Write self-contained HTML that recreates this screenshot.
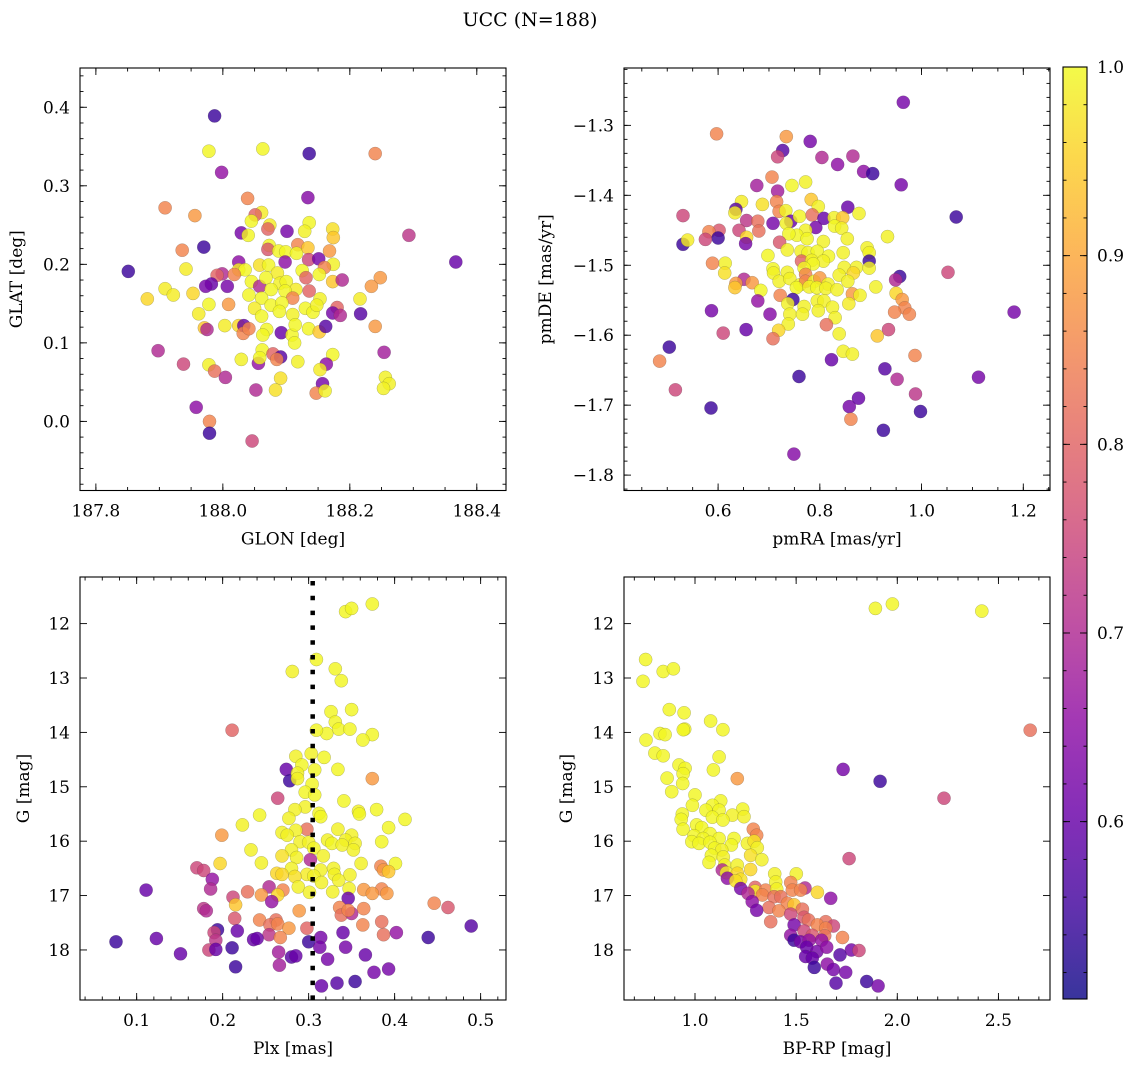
<!DOCTYPE html>
<html><head><meta charset="utf-8"><style>
html,body{margin:0;padding:0;background:#fff;}
svg{display:block;font-family:"DejaVu Serif","Liberation Serif",serif;}
</style></head><body>
<svg id="fig" width="1136" height="1067" viewBox="0 0 1136 1067" xmlns="http://www.w3.org/2000/svg">
<rect width="1136" height="1067" fill="#fff"/>
<text x="530" y="26" font-size="19" text-anchor="middle">UCC (N=188)</text>
</svg>
<script>
// ---- Panel 1: GLON vs GLAT ----
const p1x = [187.987,187.978,188.063,188.136,188.240,187.998,188.039,188.134,187.909,187.956,
188.061,188.051,188.045,188.074,188.136,188.129,188.173,188.174,188.071,188.101,
188.029,188.040,188.293,187.970,187.936,188.073,188.071,188.088,188.099,188.118,
188.116,188.134,188.135,188.151,188.168,188.174,188.160,188.367,187.851,187.942,
188.025,188.098,188.058,188.072,188.025,188.035,187.999,187.991,188.018,188.086,
188.125,188.131,188.152,188.173,188.188,188.248,188.234,187.982,187.973,188.007,
187.909,187.922,187.953,187.881,188.045,188.058,188.068,188.090,188.100,188.115,
188.098,188.076,188.041,188.061,188.110,188.136,188.153,187.978,188.009,188.076,
188.093,188.050,188.061,188.089,188.110,188.130,188.142,188.148,188.180,188.173,
188.185,188.216,188.217,187.962,187.971,187.975,188.003,188.025,188.033,188.032,
188.041,188.069,188.063,188.092,188.109,188.114,188.135,188.152,188.162,188.240,
188.113,188.062,187.898,188.254,188.173,188.029,188.056,188.058,188.079,188.091,
188.085,188.118,187.938,187.978,187.987,188.004,188.163,188.153,188.091,188.157,
188.256,188.262,188.253,188.052,188.083,188.147,188.161,187.958,187.979,187.979,188.046];
const p1y = [0.389,0.344,0.347,0.341,0.341,0.317,0.284,0.285,0.272,0.262,
0.266,0.263,0.255,0.250,0.253,0.242,0.245,0.234,0.245,0.242,
0.240,0.237,0.237,0.222,0.218,0.224,0.219,0.217,0.216,0.225,
0.214,0.221,0.206,0.207,0.217,0.200,0.196,0.203,0.191,0.194,
0.203,0.203,0.199,0.199,0.193,0.193,0.188,0.186,0.187,0.189,
0.192,0.183,0.187,0.178,0.180,0.183,0.172,0.175,0.172,0.172,
0.169,0.161,0.163,0.156,0.178,0.172,0.183,0.176,0.178,0.168,
0.166,0.168,0.161,0.157,0.157,0.166,0.156,0.149,0.149,0.148,
0.151,0.144,0.134,0.140,0.136,0.144,0.139,0.148,0.145,0.138,
0.135,0.156,0.137,0.137,0.119,0.117,0.122,0.122,0.122,0.112,
0.118,0.117,0.110,0.113,0.110,0.123,0.118,0.114,0.121,0.121,
0.100,0.091,0.090,0.088,0.085,0.079,0.074,0.081,0.086,0.082,
0.079,0.076,0.073,0.072,0.064,0.056,0.073,0.066,0.055,0.048,
0.056,0.048,0.042,0.040,0.040,0.036,0.039,0.018,0.000,-0.015,-0.025];
const p1c = [0.55,0.995,0.995,0.55,0.85,0.66,0.85,0.64,0.85,0.88,
0.985,0.80,0.995,0.985,0.995,0.99,0.97,0.94,0.80,0.62,
0.62,0.995,0.72,0.55,0.85,0.995,0.78,0.995,0.995,0.85,
0.995,0.94,0.75,0.62,0.88,0.99,0.85,0.60,0.55,0.985,
0.65,0.65,0.97,0.995,0.985,0.995,0.70,0.80,0.85,0.985,
0.995,0.80,0.995,0.94,0.70,0.88,0.88,0.60,0.62,0.62,
0.985,0.985,0.96,0.96,0.995,0.70,0.995,0.99,0.995,0.985,
0.995,0.995,0.995,0.995,0.85,0.80,0.99,0.995,0.88,0.995,
0.995,0.985,0.995,0.995,0.99,0.995,0.995,0.99,0.80,0.62,
0.70,0.985,0.58,0.985,0.94,0.70,0.985,0.96,0.60,0.85,
0.85,0.995,0.995,0.60,0.995,0.995,0.995,0.94,0.58,0.88,
0.995,0.995,0.70,0.68,0.995,0.99,0.66,0.995,0.80,0.58,
0.85,0.99,0.75,0.99,0.82,0.70,0.65,0.985,0.97,0.62,
0.99,0.99,0.99,0.70,0.97,0.85,0.99,0.65,0.85,0.55,0.75];

// ---- Panel 2: pmRA vs pmDE ----
const p2x = [0.964,0.597,0.734,0.781,0.727,0.717,0.804,0.835,0.865,0.886,
0.904,0.960,0.706,0.676,0.745,0.772,0.717,0.646,0.687,0.715,
0.783,0.797,0.855,0.635,0.633,0.531,0.720,0.733,0.743,0.760,
0.785,0.808,0.828,0.845,0.877,1.068,0.656,0.678,0.708,0.734,
0.792,0.829,0.843,0.602,0.582,0.641,0.680,0.772,0.755,0.739,
0.600,0.575,0.656,0.654,0.531,0.540,0.721,0.775,0.807,0.854,
0.933,0.736,0.763,0.777,0.795,0.817,0.846,0.893,0.897,0.698,
0.614,0.589,0.764,0.784,0.807,0.787,0.897,0.708,0.769,0.848,
0.872,0.897,1.052,0.613,0.709,0.736,0.772,0.838,0.866,0.957,
0.949,0.651,0.635,0.633,0.667,0.720,0.741,0.761,0.772,0.789,
0.800,0.816,0.855,0.754,0.779,0.794,0.812,0.834,0.910,0.950,
0.684,0.722,0.747,0.678,0.864,0.879,0.962,0.737,0.769,0.795,
0.808,0.825,0.857,0.967,0.587,0.797,1.182,0.976,0.947,0.702,
0.741,0.766,0.830,0.738,0.813,0.655,0.610,0.719,0.708,0.935,
0.913,0.838,0.504,0.846,0.864,0.987,0.485,0.823,0.759,0.928,
0.952,1.112,0.516,0.988,0.586,0.858,0.876,0.998,0.861,0.925,0.749];
const p2y = [-1.267,-1.312,-1.316,-1.323,-1.336,-1.345,-1.346,-1.356,-1.344,-1.366,
-1.369,-1.385,-1.374,-1.386,-1.386,-1.381,-1.394,-1.409,-1.413,-1.409,
-1.406,-1.416,-1.417,-1.420,-1.425,-1.429,-1.423,-1.422,-1.437,-1.430,
-1.428,-1.433,-1.432,-1.432,-1.426,-1.431,-1.436,-1.437,-1.440,-1.440,
-1.446,-1.444,-1.447,-1.450,-1.452,-1.450,-1.451,-1.450,-1.457,-1.455,
-1.461,-1.463,-1.460,-1.469,-1.470,-1.464,-1.467,-1.462,-1.466,-1.462,
-1.459,-1.478,-1.480,-1.482,-1.480,-1.487,-1.482,-1.475,-1.482,-1.486,
-1.497,-1.497,-1.494,-1.493,-1.494,-1.498,-1.494,-1.505,-1.504,-1.503,
-1.503,-1.504,-1.510,-1.511,-1.511,-1.510,-1.513,-1.514,-1.511,-1.516,
-1.521,-1.520,-1.526,-1.532,-1.525,-1.523,-1.519,-1.528,-1.523,-1.523,
-1.518,-1.527,-1.523,-1.532,-1.531,-1.532,-1.533,-1.535,-1.531,-1.540,
-1.536,-1.543,-1.549,-1.551,-1.541,-1.543,-1.549,-1.555,-1.559,-1.551,
-1.551,-1.560,-1.555,-1.561,-1.565,-1.565,-1.567,-1.570,-1.567,-1.570,
-1.570,-1.570,-1.575,-1.584,-1.585,-1.592,-1.597,-1.593,-1.605,-1.592,
-1.601,-1.598,-1.617,-1.623,-1.627,-1.629,-1.637,-1.635,-1.659,-1.648,
-1.663,-1.660,-1.678,-1.684,-1.704,-1.702,-1.690,-1.709,-1.720,-1.736,-1.770];
const p2c = [0.62,0.85,0.88,0.62,0.58,0.75,0.70,0.65,0.70,0.65,
0.55,0.62,0.85,0.68,0.995,0.99,0.68,0.985,0.97,0.85,
0.94,0.99,0.60,0.58,0.985,0.75,0.85,0.99,0.60,0.995,
0.82,0.60,0.99,0.94,0.99,0.55,0.72,0.82,0.62,0.99,
0.62,0.995,0.99,0.78,0.85,0.75,0.82,0.99,0.995,0.995,
0.55,0.75,0.96,0.62,0.55,0.985,0.78,0.995,0.99,0.99,
0.99,0.99,0.99,0.995,0.995,0.995,0.99,0.99,0.99,0.995,
0.99,0.85,0.80,0.99,0.99,0.995,0.55,0.995,0.995,0.99,
0.99,0.99,0.75,0.97,0.99,0.99,0.85,0.99,0.96,0.55,
0.70,0.70,0.88,0.94,0.88,0.99,0.99,0.995,0.85,0.99,
0.88,0.99,0.99,0.995,0.99,0.995,0.99,0.99,0.99,0.96,
0.995,0.85,0.55,0.66,0.88,0.99,0.88,0.99,0.99,0.99,
0.99,0.99,0.985,0.85,0.62,0.99,0.62,0.85,0.85,0.64,
0.99,0.99,0.99,0.99,0.82,0.60,0.75,0.96,0.82,0.75,
0.94,0.99,0.55,0.99,0.99,0.85,0.85,0.60,0.55,0.58,
0.70,0.62,0.75,0.72,0.55,0.62,0.60,0.55,0.85,0.55,0.64];

// ---- Panel 3: Plx vs G ----
const p3x = [0.343,0.350,0.374,0.309,0.281,0.331,0.338,0.350,0.326,0.331,
0.335,0.348,0.321,0.309,0.211,0.374,0.363,0.318,0.285,0.303,
0.292,0.274,0.278,0.287,0.307,0.334,0.374,0.287,0.304,0.296,
0.307,0.264,0.341,0.296,0.284,0.312,0.314,0.358,0.359,0.379,
0.243,0.277,0.412,0.223,0.393,0.298,0.285,0.334,0.269,0.275,
0.199,0.350,0.343,0.322,0.385,0.290,0.300,0.354,0.327,0.339,
0.280,0.306,0.352,0.233,0.317,0.269,0.286,0.302,0.245,0.197,
0.361,0.401,0.170,0.178,0.384,0.280,0.314,0.329,0.387,0.393,
0.263,0.269,0.298,0.330,0.348,0.284,0.306,0.188,0.335,0.315,
0.288,0.254,0.270,0.186,0.111,0.229,0.328,0.301,0.347,0.364,
0.385,0.374,0.391,0.245,0.264,0.346,0.212,0.257,0.215,0.446,
0.462,0.178,0.181,0.289,0.336,0.338,0.350,0.346,0.364,0.214,
0.243,0.262,0.385,0.363,0.255,0.264,0.277,0.298,0.489,0.194,
0.217,0.190,0.254,0.267,0.340,0.387,0.402,0.439,0.236,0.240,
0.123,0.076,0.300,0.314,0.192,0.184,0.192,0.211,0.313,0.343,
0.151,0.265,0.280,0.285,0.322,0.366,0.215,0.266,0.393,0.376,
0.354,0.333,0.315];
const p3y = [11.78,11.72,11.64,12.66,12.88,12.83,13.05,13.58,13.62,13.81,
13.94,13.94,14.02,13.96,13.96,14.04,14.14,14.46,14.44,14.39,
14.60,14.68,14.89,14.75,14.69,14.68,14.85,14.85,14.95,15.10,
15.15,15.21,15.26,15.37,15.42,15.49,15.55,15.45,15.50,15.42,
15.52,15.58,15.60,15.70,15.75,15.78,15.80,15.78,15.84,15.89,
15.89,15.89,15.98,15.98,16.01,16.01,16.02,16.04,16.04,16.07,
16.16,16.13,16.16,16.16,16.27,16.27,16.30,16.34,16.40,16.41,
16.41,16.41,16.49,16.54,16.46,16.50,16.53,16.50,16.53,16.56,
16.59,16.61,16.61,16.61,16.62,16.65,16.64,16.70,16.72,16.76,
16.84,16.84,16.90,16.88,16.90,16.93,16.93,16.94,16.87,16.89,
16.88,16.96,16.96,16.99,16.99,17.05,17.03,17.11,17.17,17.14,
17.22,17.24,17.28,17.28,17.22,17.36,17.33,17.27,17.24,17.42,
17.45,17.45,17.48,17.54,17.54,17.52,17.60,17.60,17.56,17.63,
17.65,17.68,17.72,17.77,17.68,17.72,17.68,17.77,17.81,17.79,
17.79,17.85,17.85,17.77,17.82,18.00,17.99,17.96,17.95,17.95,
18.07,18.04,18.13,18.11,18.17,18.09,18.31,18.28,18.35,18.41,
18.58,18.61,18.66];
const p3c = [0.995,0.995,0.995,0.995,0.99,0.995,0.995,0.995,0.995,0.995,
0.995,0.995,0.995,0.995,0.80,0.995,0.995,0.995,0.99,0.99,
0.995,0.60,0.55,0.99,0.995,0.995,0.88,0.99,0.995,0.995,
0.995,0.75,0.995,0.99,0.99,0.995,0.995,0.99,0.995,0.995,
0.995,0.99,0.995,0.99,0.995,0.82,0.99,0.99,0.99,0.99,
0.88,0.99,0.99,0.99,0.995,0.99,0.99,0.99,0.995,0.99,
0.99,0.995,0.99,0.99,0.99,0.97,0.99,0.70,0.99,0.96,
0.99,0.995,0.75,0.75,0.85,0.99,0.99,0.99,0.88,0.94,
0.96,0.96,0.985,0.99,0.99,0.97,0.99,0.66,0.99,0.99,
0.99,0.70,0.85,0.70,0.60,0.82,0.99,0.99,0.99,0.88,
0.85,0.88,0.88,0.88,0.96,0.60,0.75,0.66,0.94,0.85,
0.78,0.72,0.70,0.88,0.85,0.82,0.70,0.85,0.85,0.78,
0.85,0.82,0.82,0.85,0.82,0.85,0.88,0.80,0.58,0.55,
0.60,0.75,0.72,0.85,0.60,0.82,0.66,0.55,0.60,0.60,
0.60,0.55,0.55,0.62,0.72,0.75,0.60,0.55,0.62,0.62,
0.60,0.68,0.58,0.60,0.62,0.60,0.55,0.68,0.62,0.62,
0.55,0.58,0.60];

// ---- Panel 4: BP-RP vs G ----
const p4x = [1.892,1.976,2.418,0.756,0.743,0.843,0.893,0.873,0.946,0.949,
0.942,1.077,1.138,2.657,0.758,0.827,0.852,0.802,0.843,1.119,
0.921,0.951,0.941,1.091,1.732,0.862,1.209,0.939,1.915,0.885,
1.000,2.231,1.127,1.086,0.987,1.236,1.054,1.119,0.937,1.185,
1.242,1.086,1.138,0.932,1.008,1.033,0.941,1.288,1.305,1.074,
0.995,1.040,1.119,1.193,0.984,1.020,1.074,1.180,1.259,1.292,
1.308,1.097,1.132,1.275,1.081,1.140,1.330,1.762,1.069,1.147,
1.209,1.135,1.275,1.155,1.209,1.394,1.501,1.160,1.226,1.201,
1.399,1.473,1.226,1.544,1.297,1.297,1.349,1.404,1.481,1.522,
1.605,1.262,1.333,1.391,1.424,1.671,1.283,1.457,1.490,1.366,
1.415,1.305,1.531,1.473,1.539,1.561,1.374,1.646,1.490,1.605,
1.684,1.646,1.539,1.473,1.580,1.641,1.729,1.490,1.522,1.564,
1.626,1.552,1.602,1.651,1.773,1.811,1.717,1.547,1.580,1.654,
1.590,1.684,1.745,1.697,1.849,1.905];
const p4y = [11.72,11.64,11.77,12.66,13.06,12.88,12.83,13.58,13.64,13.94,
13.95,13.79,13.95,13.96,14.14,14.02,14.04,14.38,14.43,14.45,
14.60,14.66,14.76,14.69,14.68,14.84,14.85,14.94,14.90,15.09,
15.15,15.21,15.26,15.34,15.34,15.41,15.43,15.43,15.50,15.52,
15.55,15.56,15.61,15.60,15.70,15.75,15.78,15.78,15.89,15.86,
15.90,15.95,15.95,15.95,16.01,16.04,16.02,16.07,16.04,16.00,
16.12,16.13,16.16,16.26,16.26,16.29,16.34,16.32,16.39,16.44,
16.44,16.53,16.52,16.58,16.59,16.60,16.60,16.68,16.70,16.73,
16.75,16.76,16.87,16.86,16.85,16.92,16.90,16.88,16.90,16.90,
16.94,16.96,16.99,17.02,17.02,17.05,17.11,17.14,17.17,17.22,
17.28,17.27,17.25,17.34,17.40,17.45,17.48,17.48,17.54,17.54,
17.56,17.60,17.65,17.73,17.73,17.74,17.77,17.82,17.85,17.82,
17.82,17.95,18.03,17.95,18.00,18.01,18.09,18.12,18.15,18.26,
18.32,18.36,18.41,18.61,18.58,18.66];
const p4c = [0.995,0.995,0.995,0.995,0.995,0.995,0.995,0.995,0.995,0.995,
0.995,0.995,0.995,0.82,0.995,0.995,0.995,0.995,0.995,0.995,
0.995,0.995,0.995,0.995,0.62,0.995,0.88,0.995,0.55,0.995,
0.995,0.75,0.995,0.995,0.995,0.995,0.995,0.995,0.995,0.99,
0.99,0.995,0.995,0.995,0.995,0.995,0.995,0.85,0.85,0.995,
0.995,0.995,0.995,0.995,0.995,0.995,0.995,0.995,0.99,0.97,
0.99,0.995,0.99,0.97,0.995,0.99,0.99,0.75,0.995,0.99,
0.99,0.70,0.96,0.99,0.96,0.99,0.99,0.65,0.97,0.97,
0.99,0.85,0.62,0.70,0.80,0.985,0.85,0.99,0.85,0.85,
0.96,0.70,0.85,0.82,0.82,0.65,0.65,0.85,0.94,0.82,
0.85,0.62,0.82,0.75,0.78,0.82,0.82,0.82,0.62,0.85,
0.75,0.85,0.75,0.66,0.78,0.82,0.85,0.55,0.62,0.66,
0.66,0.60,0.62,0.65,0.62,0.75,0.58,0.60,0.60,0.65,
0.55,0.62,0.62,0.58,0.55,0.62];

// colorbar
const cbTicks = [0.6, 0.7, 0.8, 0.9, 1.0];
const cbLabels = ["0.6", "0.7", "0.8", "0.9", "1.0"];
const plxMean = [0.3047];

const NS = "http://www.w3.org/2000/svg";
const svg = document.getElementById("fig");
const CMIN = 0.506, CMAX = 1.0;
const plasma = [[13,8,135],[65,4,157],[106,0,168],[143,13,164],[177,42,144],[204,71,120],[225,100,98],[242,132,75],[252,166,54],[252,206,37],[240,249,33]];
function cmap(v){
  let t = (v - CMIN) / (CMAX - CMIN); t = Math.max(0, Math.min(1, t));
  const f = t * 10, i = Math.min(9, Math.floor(f)), r = f - i;
  const a = plasma[i], b = plasma[i+1];
  return "rgb(" + [0,1,2].map(k => Math.round(a[k] + (b[k]-a[k]) * r)).join(",") + ")";
}
function el(tag, attrs, parent){
  const e = document.createElementNS(NS, tag);
  for (const k in attrs) e.setAttribute(k, attrs[k]);
  (parent || svg).appendChild(e);
  return e;
}
function lin(d0, d1, r0, r1){ return v => r0 + (v - d0) * (r1 - r0) / (d1 - d0); }

function panel(cfg){
  const g = el("g", {});
  
  
  const sx = lin(cfg.xd[0], cfg.xd[1], cfg.L, cfg.R);
  const sy = lin(cfg.yd[0], cfg.yd[1], cfg.B, cfg.T);
  const cid = cfg.name + "-clip";
  const cp = el("clipPath", {id: cid}, g);
  el("rect", {x: cfg.L, y: cfg.T, width: cfg.R - cfg.L, height: cfg.B - cfg.T}, cp);
  const pg = el("g", {"clip-path": "url(#" + cid + ")"}, g);
  for (let i = 0; i < cfg.xs.length; i++){
    const c = el("circle", {cx: sx(cfg.xs[i]).toFixed(1), cy: sy(cfg.ys[i]).toFixed(1), r: 6.6,
      fill: cmap(cfg.cs[i]), "fill-opacity": 0.82, stroke: "rgba(60,60,60,0.35)", "stroke-width": 0.5}, pg);
    
    
  }
  if (cfg.vline){
    const ln = el("line", {x1: sx(cfg.vline[0]), x2: sx(cfg.vline[0]), y1: cfg.T + 4, y2: cfg.B, stroke: "#000", "stroke-width": 4.5, "stroke-dasharray": "4.5 10.3"}, pg);
    
    
  }
  const tk = el("g", {stroke: "#000", "stroke-width": 0.9}, g);
  function minorRange(d, step){ const out=[]; let s = Math.ceil(d[0]/step - 1e-6); for (let v = s*step; v <= d[1] + 1e-9; v += step) out.push(v); return out; }
  minorRange(cfg.xd, cfg.xminor).forEach(v => { const x = sx(v);
    el("line", {x1:x, x2:x, y1:cfg.B, y2:cfg.B-3.5}, tk); el("line", {x1:x, x2:x, y1:cfg.T, y2:cfg.T+3.5}, tk); });
  minorRange(cfg.yd, cfg.yminor).forEach(v => { const y = sy(v);
    el("line", {x1:cfg.L, x2:cfg.L+3.5, y1:y, y2:y}, tk); el("line", {x1:cfg.R, x2:cfg.R-3.5, y1:y, y2:y}, tk); });
  cfg.xt.forEach((v, i) => { const x = sx(v);
    el("line", {x1:x, x2:x, y1:cfg.B, y2:cfg.B-7}, tk); el("line", {x1:x, x2:x, y1:cfg.T, y2:cfg.T+7}, tk);
    const t = el("text", {x: x, y: cfg.B + 26, "font-size": 17, "text-anchor": "middle"}, g);
    t.textContent = cfg.xl[i];
    
    
  });
  cfg.yt.forEach((v, i) => { const y = sy(v);
    el("line", {x1:cfg.L, x2:cfg.L+7, y1:y, y2:y}, tk); el("line", {x1:cfg.R, x2:cfg.R-7, y1:y, y2:y}, tk);
    const t = el("text", {x: cfg.L - 10, y: y + 6, "font-size": 17, "text-anchor": "end"}, g);
    t.textContent = cfg.yl[i];
    
    
  });
  const frame = el("rect", {x: cfg.L, y: cfg.T, width: cfg.R - cfg.L, height: cfg.B - cfg.T, fill: "none", stroke: "#000", "stroke-width": 1.1}, g);
  
  
  const xt = el("text", {x: (cfg.L + cfg.R)/2, y: cfg.B + 54, "font-size": 17, "text-anchor": "middle"}, g);
  xt.textContent = cfg.xlabel;
  
  
  const yx = cfg.ylx, yy = (cfg.T + cfg.B)/2;
  const yt = el("text", {x: yx, y: yy, "font-size": 17, "text-anchor": "middle", transform: "rotate(-90 " + yx + " " + yy + ")"}, g);
  yt.textContent = cfg.ylabel;
  
  
}

const gTicks = [12,13,14,15,16,17,18];
const gLabels = ["12","13","14","15","16","17","18"];
panel({name:"glon-glat-panel", L:80, R:506, T:68, B:490.5, xd:[187.775,188.446], yd:[-0.088,0.450],
  xs:p1x, ys:p1y, cs:p1c, xt:[187.8,188.0,188.2,188.4], xl:["187.8","188.0","188.2","188.4"], xminor:0.05,
  yt:[0,0.1,0.2,0.3,0.4], yl:["0.0","0.1","0.2","0.3","0.4"], yminor:0.02,
  xlabel:"GLON [deg]", ylabel:"GLAT [deg]", ylx:22});
panel({name:"pm-panel", L:624, R:1050, T:68, B:490.5, xd:[0.415,1.2525], yd:[-1.822,-1.218],
  xs:p2x, ys:p2y, cs:p2c, xt:[0.6,0.8,1.0,1.2], xl:["0.6","0.8","1.0","1.2"], xminor:0.05,
  yt:[-1.8,-1.7,-1.6,-1.5,-1.4,-1.3], yl:["\u22121.8","\u22121.7","\u22121.6","\u22121.5","\u22121.4","\u22121.3"], yminor:0.02,
  xlabel:"pmRA [mas/yr]", ylabel:"pmDE [mas/yr]", ylx:551});
panel({name:"plx-g-panel", L:80, R:506, T:577, B:1000, xd:[0.0341,0.5295], yd:[18.92,11.143],
  xs:p3x, ys:p3y, cs:p3c, xt:[0.1,0.2,0.3,0.4,0.5], xl:["0.1","0.2","0.3","0.4","0.5"], xminor:0.02,
  yt:gTicks, yl:gLabels, yminor:0.2, vline:plxMean,
  xlabel:"Plx [mas]", ylabel:"G [mag]", ylx:29});
panel({name:"cmd-panel", L:624, R:1050, T:577, B:1000, xd:[0.649,2.755], yd:[18.92,11.143],
  xs:p4x, ys:p4y, cs:p4c, xt:[1.0,1.5,2.0,2.5], xl:["1.0","1.5","2.0","2.5"], xminor:0.1,
  yt:gTicks, yl:gLabels, yminor:0.2,
  xlabel:"BP-RP [mag]", ylabel:"G [mag]", ylx:572});

// colorbar
(function(){
  const L = 1063, R = 1087, T = 67, B = 999;
  const sc = lin(CMIN, CMAX, B, T);
  const defs = el("defs", {});
  const grad = el("linearGradient", {id: "cbgrad", x1: 0, y1: 1, x2: 0, y2: 0}, defs);
  for (let i = 0; i <= 20; i++){
    const v = CMIN + (CMAX - CMIN) * i / 20;
    el("stop", {offset: (i/20), "stop-color": cmap(v), "stop-opacity": 0.82}, grad);
  }
  const g = el("g", {});
  
  
  el("rect", {x: L, y: T, width: R - L, height: B - T, fill: "url(#cbgrad)"}, g);
  const tk = el("g", {stroke: "#000", "stroke-width": 0.9}, g);
  for (let v = 0.52; v <= 1.0001; v += 0.02){
    const y = sc(v);
    el("line", {x1: R, x2: R - 3.5, y1: y, y2: y}, tk);
    el("line", {x1: L, x2: L + 3.5, y1: y, y2: y}, tk);
  }
  cbTicks.forEach((v, i) => {
    const y = sc(v);
    el("line", {x1: R, x2: R - 7, y1: y, y2: y}, tk);
    el("line", {x1: L, x2: L + 7, y1: y, y2: y}, tk);
    const t = el("text", {x: R + 10, y: y + 6, "font-size": 17}, g);
    t.textContent = cbLabels[i];
    
    
  });
  el("rect", {x: L, y: T, width: R - L, height: B - T, fill: "none", stroke: "#000", "stroke-width": 1.1}, g);
})();
</script>
</body></html>
